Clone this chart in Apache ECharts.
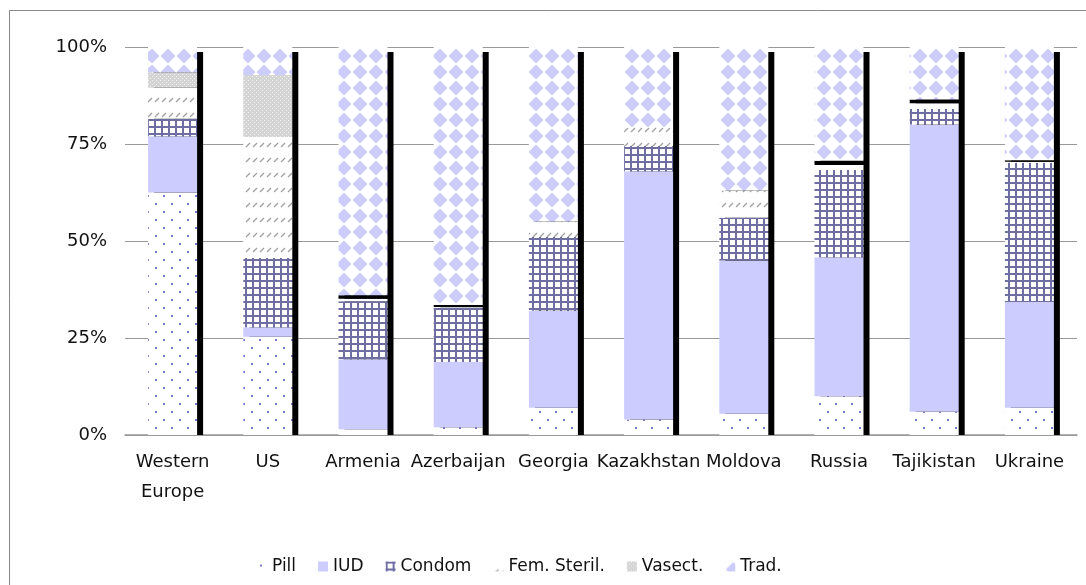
<!DOCTYPE html>
<html>
<head>
<meta charset="utf-8">
<script src="https://cdn.jsdelivr.net/npm/echarts@6/dist/echarts.min.js"></script>
<style>
    html, body { margin: 0; padding: 0; background: #fff; }
    #mix { width: 1086px; height: 585px; }
</style>
</head>
<body>
<div id="mix"></div>
<script>
// categories and shares (% of users)
var countries = ['Western\nEurope', 'US', 'Armenia', 'Azerbaijan', 'Georgia', 'Kazakhstan', 'Moldova', 'Russia', 'Tajikistan', 'Ukraine'];
var pill      = [62.5, 25.3,  1.5,  2.0,  7.0,  4.0,  5.5, 10.0,  6.0,  7.0];
var iud       = [14.5,  2.5, 18.0, 16.8, 25.0, 64.0, 39.5, 35.8, 74.0, 27.3];
var condom    = [ 4.5, 17.8, 15.0, 14.0, 19.0,  6.5, 11.0, 22.5,  4.0, 35.8];
var femSteril = [ 8.0, 31.2,  0.6,  0.2,  4.0,  4.9,  7.0,  1.3,  1.5,  0.3];
var vasect    = [ 4.0, 16.0,  0.0,  0.0,  0.0,  0.0,  0.0,  0.0,  0.0,  0.0];
var other     = [ 0.0,  0.0,  0.9,  0.5,  0.0,  0.0,  0.0,  1.1,  1.0,  0.4];
var trad      = [ 6.5,  7.2, 64.0, 66.5, 45.0, 20.6, 37.0, 29.3, 13.5, 29.2];
var yTicks = [0, 25, 50, 75, 100];

// small canvas tiles for the fill patterns
function tile(w, h, draw) {
    var c = document.createElement('canvas');
    c.width = w; c.height = h;
    var ctx = c.getContext('2d');
    ctx.fillStyle = '#fff';
    ctx.fillRect(0, 0, w, h);
    draw(ctx);
    return { image: c, repeat: 'repeat' };
}
var pillFill = tile(16, 16, function (ctx) {
    ctx.fillStyle = '#7a7acc';
    ctx.fillRect(3, 3, 2, 2);
    ctx.fillRect(11, 11, 2, 2);
});
var condomFill = tile(7, 7, function (ctx) {
    ctx.fillStyle = '#6e6ea3';
    ctx.fillRect(0, 0, 7, 2);
    ctx.fillRect(0, 0, 2, 7);
});
var femFill = tile(7, 15, function (ctx) {
    ctx.strokeStyle = '#a0a0a0';
    ctx.lineWidth = 1.3;
    ctx.beginPath();
    ctx.moveTo(1, 12);
    ctx.lineTo(5, 8);
    ctx.stroke();
});
var vasectFill = tile(4, 4, function (ctx) {
    ctx.fillStyle = '#d4d4d4';
    ctx.fillRect(0, 0, 4, 4);
    ctx.fillStyle = '#f2f2f2';
    ctx.fillRect(0, 0, 1, 1);
    ctx.fillRect(2, 2, 1, 1);
});
var tradFill = tile(16, 16, function (ctx) {
    ctx.fillStyle = '#ccccff';
    ctx.beginPath();
    ctx.moveTo(8, 0.5);
    ctx.lineTo(15.5, 8);
    ctx.lineTo(8, 15.5);
    ctx.lineTo(0.5, 8);
    ctx.closePath();
    ctx.fill();
});

var totals = countries.map(function (c, i) {
    return pill[i] + iud[i] + condom[i] + femSteril[i] + vasect[i] + other[i] + trad[i];
});

var txt = { fontFamily: 'DejaVu Sans', fontSize: 18, color: '#111' };

function seg(name, data, fill) {
    return {
        name: name, type: 'bar', stack: 'mix', data: data,
        barWidth: 49, z: 3,
        itemStyle: { color: fill }
    };
}

var myChart = echarts.init(document.getElementById('mix'));
myChart.setOption({
    animation: false,
    graphic: [{
        type: 'rect', silent: true, z: -10,
        shape: { x: 9.5, y: 10.5, width: 1100, height: 600 },
        style: { fill: 'none', stroke: '#888', lineWidth: 1 }
    }],
    grid: [
        { left: 125, right: 9, top: 47, bottom: 150 },
        { left: 131, right: 3, top: 52, bottom: 150 }
    ],
    legend: {
        data: ['Pill', 'IUD', 'Condom', 'Fem. Steril.', 'Vasect.', 'Trad.'],
        left: 252, top: 553,
        itemWidth: 10, itemHeight: 10, itemGap: 22,
        icon: 'rect',
        textStyle: { fontFamily: 'DejaVu Sans', fontSize: 17, color: '#111' }
    },
    xAxis: [{
        type: 'category', data: countries, gridIndex: 0,
        axisLine: { lineStyle: { color: '#999', width: 1.5 } },
        axisTick: { show: false },
        axisLabel: Object.assign({ interval: 0, margin: 12, lineHeight: 30, hideOverlap: false }, txt)
    }, {
        type: 'category', data: countries, gridIndex: 1, show: false
    }],
    yAxis: [{
        type: 'value', gridIndex: 0, min: yTicks[0], max: yTicks[yTicks.length - 1], interval: 25,
        axisLine: { show: false },
        axisTick: { show: false },
        splitLine: { lineStyle: { color: '#999' } },
        axisLabel: Object.assign({ margin: 18, formatter: '{value}%' }, txt)
    }, {
        type: 'value', gridIndex: 1, min: 0, max: 100, show: false
    }],
    series: [
        {
            name: 'shadow', type: 'bar', xAxisIndex: 1, yAxisIndex: 1,
            data: totals, barWidth: 49, silent: true, z: 1,
            itemStyle: { color: '#000' }
        },
        seg('Pill', pill, pillFill),
        seg('IUD', iud, '#ccccff'),
        seg('Condom', condom, condomFill),
        seg('Fem. Steril.', femSteril, femFill),
        seg('Vasect.', vasect, vasectFill),
        seg('Other', other, '#000'),
        seg('Trad.', trad, tradFill)
    ]
});
</script>
</body>
</html>
